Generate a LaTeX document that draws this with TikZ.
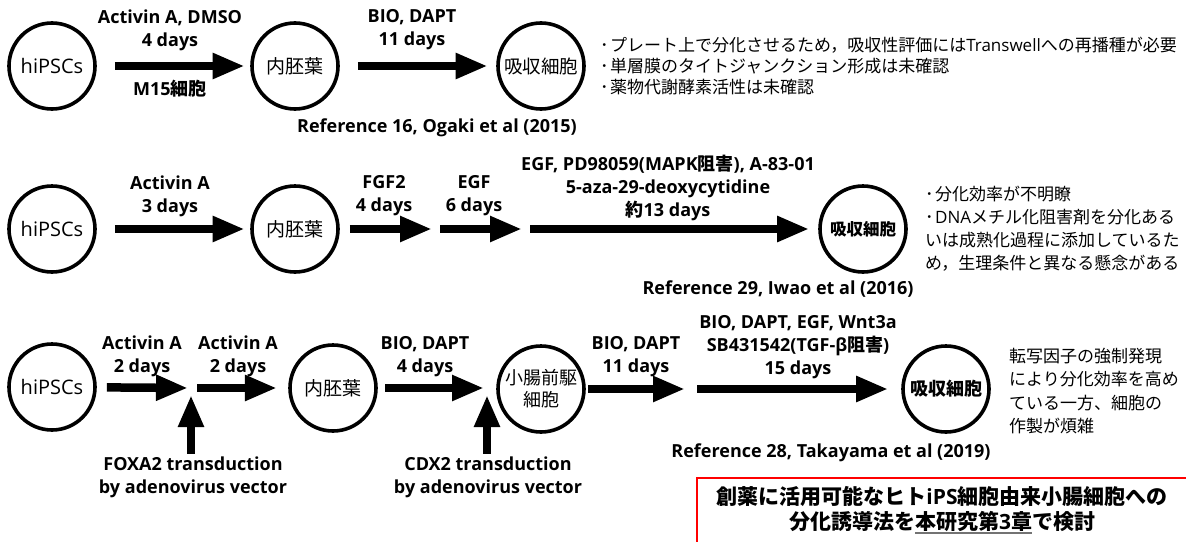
\documentclass[tikz,border=0pt]{standalone}
\usepackage{fontspec}
\setmainfont{Open Sans}
\newfontfamily\jp{Noto Sans CJK JP}
\newfontfamily\lat{Open Sans}
\usetikzlibrary{arrows.meta,shapes.geometric}
\newcommand\bul{･\kern1.5pt}
\newcommand\gul[1]{\setbox0\hbox{#1}\rlap{\color{black!55}\rule[-4.5pt]{\wd0}{1.2pt}}\box0}
\begin{document}
\begin{tikzpicture}[x=1pt,y=-1pt,
  circ/.style={draw, circle, line width=3.6pt, minimum size=86pt, inner sep=0pt, align=center},
  lbl/.style={font=\fontsize{18}{23}\selectfont\bfseries, align=center, inner sep=0pt},
  note/.style={font=\fontsize{17}{21}\selectfont\jp, align=left, anchor=west, inner sep=0pt},
  arr/.style={line width=8.5pt, -{Triangle[length=32pt,width=24pt]}}]
\useasboundingbox (0,0) rectangle (1186,541);
\begin{scope}
\clip (0,0) rectangle (1186,541);
% ---------- Row 1 ----------
\node[circ, font=\fontsize{20}{22}\selectfont] (h1) at (52,66) {hiPSCs};
\node[circ, font=\fontsize{19}{22}\selectfont\jp] (e1) at (295,66) {内胚葉};
\node[circ, font=\fontsize{18.5}{22}\selectfont\jp] (a1) at (541,66) {吸収細胞};
\draw[arr, shorten <=18pt, shorten >=5.5pt] (h1) -- (e1);
\draw[arr, shorten <=18pt, shorten >=8.5pt] (e1) -- (a1);
\node[lbl] (l11) at (170,30) {Activin A, DMSO\\4 days};
\node[lbl] (l12) at (170,89) {M15{\jp 細胞}};
\node[lbl] (l13) at (412,30) {BIO, DAPT\\11 days};
\node[lbl] (r1) at (437,128) {Reference 16, Ogaki et al (2015)};
\node[note] (n11) at (600,45) {\bul プレート上で分化させるため，吸収性評価には{\lat Transwell}への再播種が必要};
\node[note] (n12) at (600,66) {\bul 単層膜のタイトジャンクション形成は未確認};
\node[note] (n13) at (600,87) {\bul 薬物代謝酵素活性は未確認};
% ---------- Row 2 ----------
\node[circ, font=\fontsize{20}{22}\selectfont] (h2) at (52,229) {hiPSCs};
\node[circ, font=\fontsize{19}{22}\selectfont\jp] (e2) at (295,229) {内胚葉};
\node[circ, font=\fontsize{16.5}{22}\selectfont\jp\bfseries] (a2) at (863,229) {吸収細胞};
\coordinate (p1) at (436,229);
\coordinate (p2) at (526,229);
\draw[arr, shorten <=18pt, shorten >=5.5pt] (h2) -- (e2);
\draw[arr, shorten <=10pt, shorten >=4pt] (e2) -- (p1);
\draw[arr, shorten <=4pt, shorten >=4pt] (p1) -- (p2);
\draw[arr, shorten <=4pt, shorten >=9pt] (p2) -- (a2);
\node[lbl] (l21) at (170,196) {Activin A\\3 days};
\node[lbl] (l22) at (384,196) {FGF2\\4 days};
\node[lbl] (l23) at (474,196) {EGF\\6 days};
\node[lbl] (l24) at (668,188) {EGF, PD98059(MAPK{\jp 阻害}), A-83-01\\5-aza-29-deoxycytidine\\{\jp 約}13 days};
\node[lbl] (r2) at (778,289) {Reference 29, Iwao et al (2016)};
\node[note, font=\fontsize{17}{23}\selectfont\jp] (n2) at (925,229) {\bul 分化効率が不明瞭\\\bul{\lat DNA}メチル化阻害剤を分化ある\\いは成熟化過程に添加しているた\\め，生理条件と異なる懸念がある};
% ---------- Row 3 ----------
\node[circ, font=\fontsize{20}{22}\selectfont] (h3) at (52,387) {hiPSCs};
\node[circ, font=\fontsize{19}{22}\selectfont\jp] (e3) at (333,388) {内胚葉};
\node[circ, font=\fontsize{18}{22}\selectfont\jp] (s3) at (541,389) {小腸前駆\\細胞};
\node[circ, font=\fontsize{18}{22}\selectfont\jp\bfseries] (a3) at (946,389) {吸収細胞};
\coordinate (j1) at (191,388);
\coordinate (j2) at (487,388);
\coordinate (q1) at (691,389);
\node[lbl] (fox) at (193,477.5) {FOXA2 transduction\\by adenovirus vector};
\node[lbl] (cdx) at (488,477.5) {CDX2 transduction\\by adenovirus vector};
\draw[arr, shorten <=10pt, shorten >=3pt] (h3) -- (j1);
\draw[arr, shorten <=6pt, shorten >=11.25pt] (j1) -- (e3);
\draw[arr, shorten <=3pt, shorten >=7pt] (fox.north -| j1) -- (j1);
\draw[arr, shorten <=7.25pt, shorten >=3pt] (e3) -- (j2);
\draw[arr, shorten <=3pt, shorten >=7pt] (cdx.north -| j2) -- (j2);
\draw[arr, shorten <=2.5pt, shorten >=6pt] (s3) -- (q1);
\draw[arr, shorten <=6pt, shorten >=13pt] (q1) -- (a3);
\node[lbl] (l31) at (142,356) {Activin A\\2 days};
\node[lbl] (l32) at (238,356) {Activin A\\2 days};
\node[lbl] (l33) at (425,357) {BIO, DAPT\\4 days};
\node[lbl] (l34) at (636,357) {BIO, DAPT\\11 days};
\node[lbl] (l35) at (798,347) {BIO, DAPT, EGF, Wnt3a\\SB431542(TGF-β{\jp 阻害})\\15 days};
\node[lbl] (r3) at (831,453) {Reference 28, Takayama et al (2019)};
\node[note, font=\fontsize{17}{23.5}\selectfont\jp] (n3) at (1009,391) {転写因子の強制発現\\により分化効率を高め\\ている一方、細胞の\\作製が煩雑};
% ---------- Red box ----------
\draw[red, line width=2pt] (697,478) rectangle (1220,570);
\node[lbl, font=\fontsize{21}{24.5}\selectfont\jp\bfseries] (conc) at (942,510) {創薬に活用可能なヒト{\lat iPS}細胞由来小腸細胞への\\分化誘導法を\gul{本研究第{\lat 3}章}で検討};
\end{scope}
\end{tikzpicture}
\end{document}
